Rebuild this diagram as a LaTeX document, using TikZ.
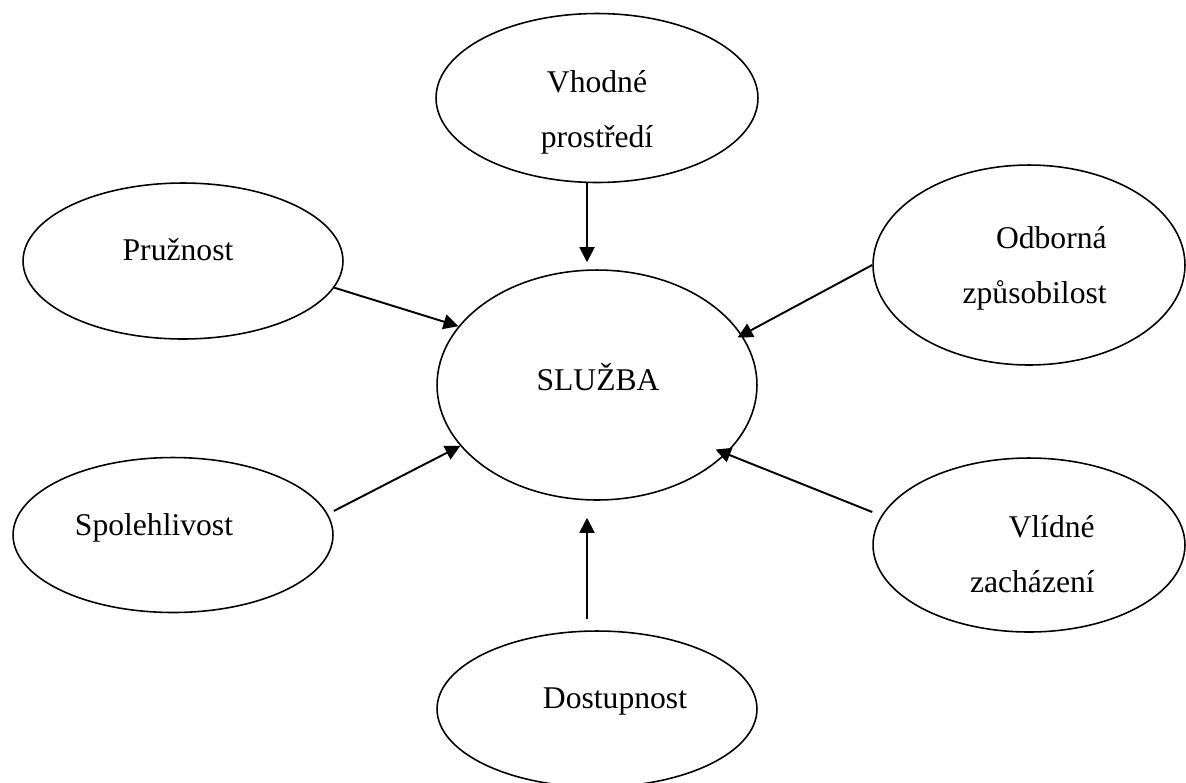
\documentclass[tikz,border=0pt]{standalone}
\usepackage{fontspec}
\setmainfont{Liberation Serif}
\usetikzlibrary{shapes.geometric,arrows.meta}

\tikzset{
  blob/.style={draw, ellipse, line width=0.9pt, inner sep=0pt},
  word/.style={font=\fontsize{18}{31}\selectfont, inner sep=0pt, anchor=base, align=center},
  feed/.style={line width=1.1pt, -{Triangle[length=0.3cm,width=0.3cm]}},
}

\begin{document}
\begin{tikzpicture}[x=0.02cm,y=-0.02cm]
\useasboundingbox (0,0) rectangle (1186,782);
% ellipses
\node[blob, minimum width=6.4cm, minimum height=4.6cm] (sluzba) at (597,385) {};
\node[blob, minimum width=6.44cm, minimum height=3.38cm] (vhodne) at (597,98) {};
\node[blob, minimum width=6.4cm, minimum height=3.12cm] (pruznost) at (183,261) {};
\node[blob, minimum width=6.24cm, minimum height=4cm] (odborna) at (1029,265) {};
\node[blob, minimum width=6.4cm, minimum height=3.1cm] (spolehlivost) at (173,535) {};
\node[blob, minimum width=6.24cm, minimum height=3.48cm] (vlidne) at (1029,545) {};
\node[blob, minimum width=6.4cm, minimum height=3.12cm] (dostupnost) at (597,709) {};
% texts (base = last line)
\node[word] (t-sluzba) at (598,390) {SLUŽBA};
\node[word] (t-vhodne) at (597,147) {Vhodné\\prostředí};
\node[word] (t-pruznost) at (178,260) {Pružnost};
\node[word, anchor=base east, align=right] (t-odborna) at (1107,303) {Odborná\\způsobilost};
\node[word] (t-spolehlivost) at (154,535) {Spolehlivost};
\node[word, anchor=base east, align=right] (t-vlidne) at (1095,592) {Vlídné\\zacházení};
\node[word] (t-dostupnost) at (615,708) {Dostupnost};
% arrows
\draw[feed, shorten >=0.14cm] ([xshift=-0.2cm]vhodne.south) -- ([xshift=-0.2cm]sluzba.north);
\draw[feed] (pruznost.-10) -- (sluzba.157);
\draw[feed, shorten >=-0.1cm] (odborna.west) -- (sluzba.19);
\draw[feed] ([yshift=0.48cm]spolehlivost.east) -- (sluzba.204);
\draw[feed, shorten >=-0.23cm] ([yshift=0.66cm]vlidne.west) -- (sluzba.-28);
\draw[feed, shorten <=0.22cm, shorten >=0.34cm] ([xshift=-0.2cm]dostupnost.north) -- ([xshift=-0.2cm]sluzba.south);
\end{tikzpicture}
\end{document}
